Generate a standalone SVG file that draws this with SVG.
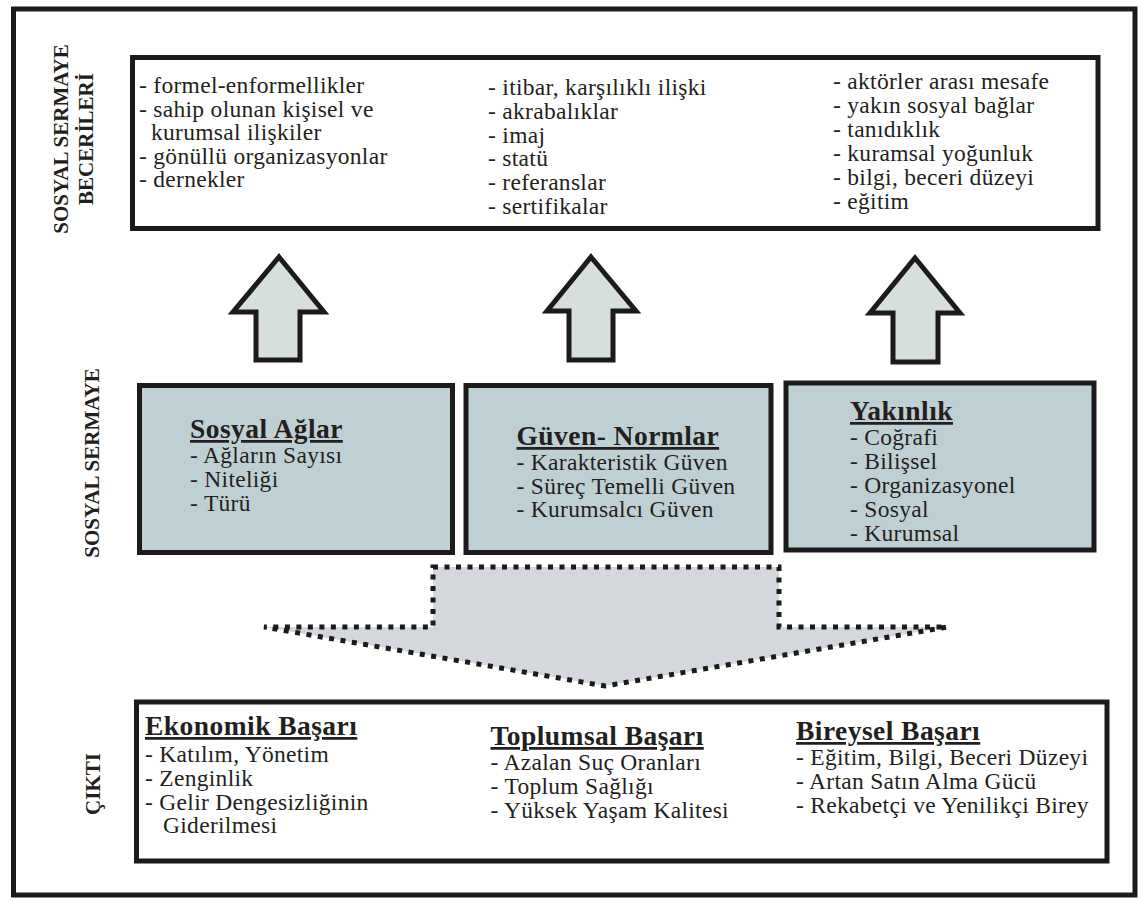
<svg xmlns="http://www.w3.org/2000/svg" width="1141" height="900" viewBox="0 0 1141 900">
  <style>
    .frame { fill: #ffffff; stroke: #1c1a1a; stroke-width: 5; }
    .panel { fill: #ffffff; stroke: #1c1a1a; stroke-width: 5; }
    .card { fill: #bfd0d4; stroke: #1c1a1a; stroke-width: 5; }
    .up { fill: #d7dfdd; stroke: #1c1a1a; stroke-width: 5; stroke-linejoin: miter; }
    .flow { fill: #d4d7dc; stroke: #1c1a1a; stroke-width: 5; stroke-dasharray: 5 6.5; }
    .item { font-family: "Liberation Serif", "Times New Roman", serif; font-size: 23.5px; letter-spacing: 0.3px; fill: #231f20; }
    .title { font-family: "Liberation Serif", "Times New Roman", serif; font-size: 27.5px; letter-spacing: 0.45px; font-weight: bold; fill: #231f20; text-decoration: underline; }
    .side { font-family: "Liberation Serif", "Times New Roman", serif; font-size: 21px; font-weight: bold; fill: #231f20; text-anchor: middle; }
  </style>

  <!-- outer frame -->
  <rect class="frame" x="13.5" y="9" width="1121.5" height="886"/>

  <!-- row labels -->
  <g id="label-beceriler">
    <text class="side" transform="translate(68,139) rotate(-90)">SOSYAL SERMAYE</text>
    <text class="side" transform="translate(93,139) rotate(-90)">BECERİLERİ</text>
  </g>
  <g id="label-sermaye">
    <text class="side" transform="translate(99,463) rotate(-90)">SOSYAL SERMAYE</text>
  </g>
  <g id="label-cikti">
    <text class="side" transform="translate(100,784) rotate(-90)">ÇIKTI</text>
  </g>

  <!-- connectors: block arrows -->
  <g id="connectors">
    <path class="up" d="M279,257 L324,312 L300,312 L300,360 L256,360 L256,312 L233,312 Z"/>
    <path class="up" d="M591,257 L636,311 L613,311 L613,360 L569,360 L569,311 L547,311 Z"/>
    <path class="up" d="M915,258 L960,313 L938,313 L938,362 L893,362 L893,313 L870,313 Z"/>
    <path class="flow" d="M433,567 L779,567 L779,627 L947,627 L605,686 L264,627 L433,627 Z"/>
  </g>

  <!-- top: skills -->
  <g id="beceriler">
    <rect class="panel" x="132.5" y="57.5" width="965.5" height="171"/>
    <text class="item" x="139" y="93">- formel-enformellikler</text>
    <text class="item" x="139" y="116.5">- sahip olunan kişisel ve</text>
    <text class="item" x="151" y="140">kurumsal ilişkiler</text>
    <text class="item" x="139" y="163.5">- gönüllü organizasyonlar</text>
    <text class="item" x="139" y="187">- dernekler</text>

    <text class="item" x="488" y="95">- itibar, karşılıklı ilişki</text>
    <text class="item" x="488" y="118.8">- akrabalıklar</text>
    <text class="item" x="488" y="142.6">- imaj</text>
    <text class="item" x="488" y="166.4">- statü</text>
    <text class="item" x="488" y="190.2">- referanslar</text>
    <text class="item" x="488" y="214">- sertifikalar</text>

    <text class="item" x="833" y="88.5">- aktörler arası mesafe</text>
    <text class="item" x="833" y="112.5">- yakın sosyal bağlar</text>
    <text class="item" x="833" y="136.5">- tanıdıklık</text>
    <text class="item" x="833" y="160.5">- kuramsal yoğunluk</text>
    <text class="item" x="833" y="184.5">- bilgi, beceri düzeyi</text>
    <text class="item" x="833" y="208.5">- eğitim</text>
  </g>

  <!-- middle: social capital -->
  <g id="sosyal-aglar">
    <rect class="card" x="139.5" y="385.5" width="313" height="167"/>
    <text class="title" x="190" y="438">Sosyal Ağlar</text>
    <text class="item" x="190" y="463">- Ağların Sayısı</text>
    <text class="item" x="190" y="487">- Niteliği</text>
    <text class="item" x="190" y="511">- Türü</text>
  </g>
  <g id="guven-normlar">
    <rect class="card" x="466" y="385.5" width="305" height="167"/>
    <text class="title" x="516.5" y="445">Güven- Normlar</text>
    <text class="item" x="516.5" y="470">- Karakteristik Güven</text>
    <text class="item" x="516.5" y="493.5">- Süreç Temelli Güven</text>
    <text class="item" x="516.5" y="517">- Kurumsalcı Güven</text>
  </g>
  <g id="yakinlik">
    <rect class="card" x="786" y="383" width="308" height="167"/>
    <text class="title" x="850" y="420">Yakınlık</text>
    <text class="item" x="850" y="445">- Coğrafi</text>
    <text class="item" x="850" y="469">- Bilişsel</text>
    <text class="item" x="850" y="493">- Organizasyonel</text>
    <text class="item" x="850" y="517">- Sosyal</text>
    <text class="item" x="850" y="541">- Kurumsal</text>
  </g>

  <!-- bottom: outcomes -->
  <g id="cikti">
    <rect class="panel" x="136.5" y="702" width="970.5" height="159"/>
    <text class="title" x="145" y="735">Ekonomik Başarı</text>
    <text class="item" x="145" y="762">- Katılım, Yönetim</text>
    <text class="item" x="145" y="785.5">- Zenginlik</text>
    <text class="item" x="145" y="809.5">- Gelir Dengesizliğinin</text>
    <text class="item" x="163" y="833">Giderilmesi</text>

    <text class="title" x="490.5" y="745">Toplumsal Başarı</text>
    <text class="item" x="490.5" y="770">- Azalan Suç Oranları</text>
    <text class="item" x="490.5" y="794">- Toplum Sağlığı</text>
    <text class="item" x="490.5" y="818">- Yüksek Yaşam Kalitesi</text>

    <text class="title" x="796" y="740">Bireysel Başarı</text>
    <text class="item" x="796" y="765">- Eğitim, Bilgi, Beceri Düzeyi</text>
    <text class="item" x="796" y="789">- Artan Satın Alma Gücü</text>
    <text class="item" x="796" y="813">- Rekabetçi ve Yenilikçi Birey</text>
  </g>
</svg>
